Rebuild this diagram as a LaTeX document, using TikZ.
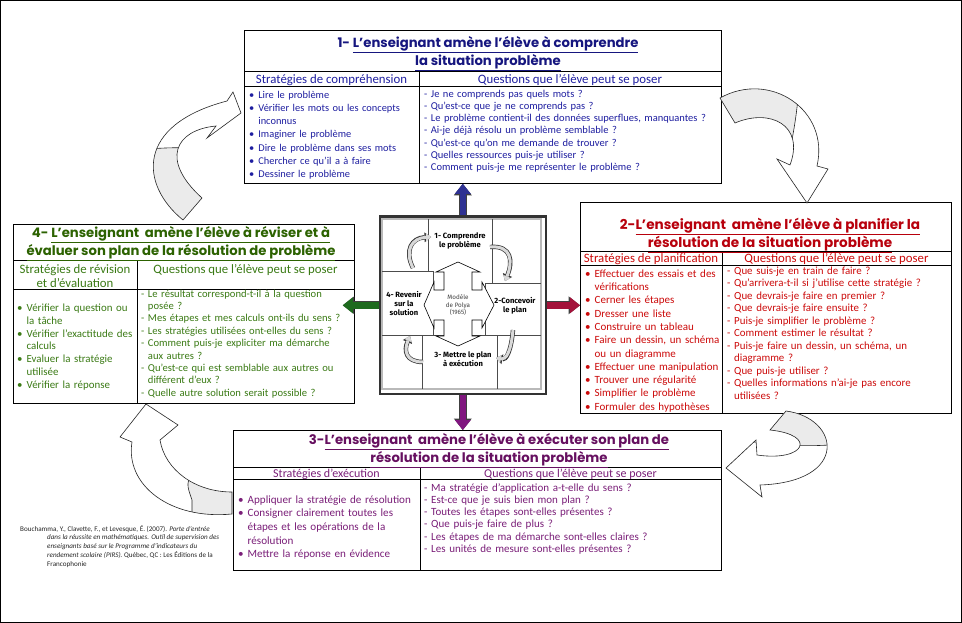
\documentclass[tikz,border=0pt]{standalone}
\usepackage{fontspec}
\setmainfont{Carlito}
\newfontfamily\headfont{Poppins}
\newfontfamily\polyfont{Fira Sans}
\usetikzlibrary{positioning,arrows.meta}
\definecolor{bluetxt}{HTML}{1E1EA0}
\definecolor{bluettl}{HTML}{16167F}
\definecolor{redtxt}{HTML}{CC0A0A}
\definecolor{redttl}{HTML}{B8000C}
\definecolor{greentxt}{HTML}{3A7A14}
\definecolor{greenttl}{HTML}{2C6200}
\definecolor{purptxt}{HTML}{7A1E78}
\definecolor{purpttl}{HTML}{661060}
\definecolor{arrblue}{HTML}{2E3192}
\definecolor{arrgreen}{HTML}{1E6A1E}
\definecolor{arrred}{HTML}{A3123A}
\definecolor{arrpurp}{HTML}{80167F}

\newcommand\bul{\textbullet\hspace{4pt}}
\newcommand\bulind{\hphantom{\textbullet}\hspace{4pt}}
\newcommand\dashind{\hphantom{-\ }}

% outlines of the four big curved arrows (pixel grid, y downwards)
\newcommand\arrTL{(183,220) .. controls (140,185) and (135,125) .. (227,101) -- (233,92) -- (241,113) -- (207,138) -- (216,126) .. controls (175,130) and (160,160) .. (202,198) -- cycle}
\newcommand\arrTR{(720,98) .. controls (770,70) and (830,110) .. (817,166) -- (828,169) -- (807,203) -- (777,159) -- (790,165) .. controls (805,125) and (770,108) .. (735,123) -- cycle}
\newcommand\arrBR{(786,411) .. controls (840,418) and (850,482) .. (760,485) -- (762,497) -- (726,468) -- (756,440) -- (757,455) .. controls (805,462) and (818,435) .. (770,430) -- cycle}
\newcommand\arrBL{(232,514) .. controls (170,520) and (125,485) .. (132,442) -- (120,437) -- (146,404) -- (178,425) -- (160,440) .. controls (165,470) and (195,492) .. (232,492) -- cycle}

\begin{document}
\begin{tikzpicture}[
  x=1pt, y=-1pt,
  panel/.style   = {draw=black, line width=0.8pt, anchor=north west, inner sep=0pt},
  sep/.style     = {draw=black, line width=0.7pt},
  ttl/.style     = {anchor=north, align=center, inner sep=0pt,
                    font=\headfont\bfseries\fontsize{13.2}{18}\selectfont},
  hdr/.style     = {anchor=base, inner sep=0pt, font=\fontsize{12.8}{13}\selectfont},
  lst/.style     = {anchor=north west, align=left, inner sep=0pt, text width=#1},
  blkarr/.style  = {draw=#1, line width=6.5pt, -{Triangle[length=10pt,width=16pt,line width=0pt]},
                    preaction={draw=black!75, line width=7.8pt,
                               -{Triangle[length=11.5pt,width=18pt,line width=0pt]}}},
  curl/.style    = {draw=black!85, line width=0.6pt},
  curlback/.style= {fill=black!8, draw=black!85, line width=0.6pt},
  minicurl/.style= {draw=gray!30, line width=3pt, -{Triangle[length=5pt,width=8pt,line width=0pt]},
                    preaction={draw=black!80, line width=4.4pt,
                               -{Triangle[length=6.5pt,width=10pt,line width=0pt]}}},
  polyatxt/.style= {align=center, inner sep=0pt, font=\polyfont\bfseries\fontsize{7.6}{9}\selectfont},
]
\fill[white] (0,0) rectangle (962,623);
\useasboundingbox (0,0) rectangle (962,623);
\draw[line width=1pt] (0.5,0.5) rectangle (961.5,622.5);

% ---------- 1 : comprendre ----------
\node[panel, minimum width=477pt, minimum height=153pt] (b1) at (244,30) {};
\draw[sep] (244,71) -- (721,71);
\draw[sep] (244,86) -- (721,86);
\draw[sep] (419,71) -- (419,183);
\node[ttl, text=bluettl] (b1t) at (488,34.4)
  {\strut 1- \underline{L’enseignant amène l’élève à comprendre}\\\underline{la situation problème}};
\node[hdr, text=bluetxt] (b1h1) at (331.5,83.5) {Stratégies de compréhension};
\node[hdr, text=bluetxt] (b1h2) at (570,83.5) {Questions que l’élève peut se poser};
\node[lst=170pt, text=bluetxt, font=\fontsize{10.4}{13.2}\selectfont] (b1s) at (249,88.8)
  {\strut\bul Lire le problème\\
   \bul Vérifier les mots ou les concepts\\
   \bulind inconnus\\
   \bul Imaginer le problème\\
   \bul Dire le problème dans ses mots\\
   \bul Chercher ce qu'il a à faire\\
   \bul Dessiner le problème};
\node[lst=295pt, text=bluetxt, font=\fontsize{10.5}{12.2}\selectfont] (b1q) at (424,88.5)
  {\strut- Je ne comprends pas quels mots ?\\
   - Qu'est-ce que je ne comprends pas ?\\
   - Le problème contient-il des données superflues, manquantes ?\\
   - Ai-je déjà résolu un problème semblable ?\\
   - Qu'est-ce qu'on me demande de trouver ?\\
   - Quelles ressources puis-je utiliser ?\\
   - Comment puis-je me représenter le problème ?};

% ---------- 2 : planifier ----------
\node[panel, minimum width=371pt, minimum height=211pt] (b2) at (580,202) {};
\draw[sep] (580,251) -- (951,251);
\draw[sep] (580,265) -- (951,265);
\draw[sep] (722,251) -- (722,413);
\node[ttl, text=redttl, font=\headfont\bfseries\fontsize{13.6}{16}\selectfont] (b2t) at (770,217.8)
  {\strut 2-\underline{L’enseignant\ \ amène l’élève à planifier la}\\\underline{résolution de la situation problème}};
\node[hdr, text=redtxt] (b2h1) at (651,262.5) {Stratégies de planification};
\node[hdr, text=redtxt] (b2h2) at (836.5,262.5) {Questions que l’élève peut se poser};
\node[lst=140pt, text=redtxt, font=\fontsize{11}{13.3}\selectfont] (b2s) at (585,267.7)
  {\strut\bul Effectuer des essais et des\\
   \bulind vérifications\\
   \bul Cerner les étapes\\
   \bul Dresser une liste\\
   \bul Construire un tableau\\
   \bul Faire un dessin, un schéma\\
   \bulind ou un diagramme\\
   \bul Effectuer une manipulation\\
   \bul Trouver une régularité\\
   \bul Simplifier le problème\\
   \bul Formuler des hypothèses};
\node[lst=224pt, text=redtxt, font=\fontsize{10.9}{12.5}\selectfont] (b2q) at (727,265.3)
  {\strut- Que suis-je en train de faire ?\\
   - Qu'arrivera-t-il si j'utilise cette stratégie ?\\
   - Que devrais-je faire en premier ?\\
   - Que devrais-je faire ensuite ?\\
   - Puis-je simplifier le problème ?\\
   - Comment estimer le résultat ?\\
   - Puis-je faire un dessin, un schéma, un\\
   \dashind diagramme ?\\
   - Que puis-je utiliser ?\\
   - Quelles informations n'ai-je pas encore\\
   \dashind utilisées ?};

% ---------- 3 : executer ----------
\node[panel, minimum width=488pt, minimum height=140pt] (b3) at (233,430) {};
\draw[sep] (233,467) -- (721,467);
\draw[sep] (233,479) -- (721,479);
\draw[sep] (420,467) -- (420,570);
\node[ttl, text=purpttl] (b3t) at (489,431.4)
  {\strut 3-\underline{L’enseignant\ \ amène l’élève à exécuter son plan de}\\\underline{résolution de la situation problème}};
\node[hdr, text=purptxt, font=\fontsize{12}{13}\selectfont] (b3h1) at (326.5,477) {Stratégies d’exécution};
\node[hdr, text=purptxt, font=\fontsize{12}{13}\selectfont] (b3h2) at (570.5,477) {Questions que l’élève peut se poser};
\node[lst=185pt, text=purptxt, font=\fontsize{11.1}{13.7}\selectfont] (b3s) at (238,493.4)
  {\strut\bul Appliquer la stratégie de résolution\\
   \bul Consigner clairement toutes les\\
   \bulind étapes et les opérations de la\\
   \bulind résolution\\
   \bul Mettre la réponse en évidence};
\node[lst=295pt, text=purptxt, font=\fontsize{11}{12.2}\selectfont] (b3q) at (424,482.5)
  {\strut- Ma stratégie d'application a-t-elle du sens ?\\
   - Est-ce que je suis bien mon plan ?\\
   - Toutes les étapes sont-elles présentes ?\\
   - Que puis-je faire de plus ?\\
   - Les étapes de ma démarche sont-elles claires ?\\
   - Les unités de mesure sont-elles présentes ?};

% ---------- 4 : reviser ----------
\node[panel, minimum width=341pt, minimum height=179pt] (b4) at (13,224) {};
\draw[sep] (13,260) -- (354,260);
\draw[sep] (13,289) -- (354,289);
\draw[sep] (137,260) -- (137,403);
\node[ttl, text=greenttl] (b4t) at (181,224.4)
  {\strut 4- \underline{L’enseignant\ \ amène l’élève à réviser et à}\\\underline{évaluer son plan de la résolution de problème}};
\node[hdr, anchor=north, align=center, font=\fontsize{12.8}{12}\selectfont, text=greentxt] (b4h1) at (75,264.6)
  {\strut Stratégies de révision\\et d’évaluation};
\node[hdr, text=greentxt] (b4h2) at (245.5,273) {Questions que l’élève peut se poser};
\node[lst=125pt, text=greentxt, font=\fontsize{10.9}{12.9}\selectfont] (b4s) at (17,302)
  {\strut\bul Vérifier la question ou\\
   \bulind la tâche\\
   \bul Vérifier l'exactitude des\\
   \bulind calculs\\
   \bul Evaluer la stratégie\\
   \bulind utilisée\\
   \bul Vérifier la réponse};
\node[lst=215pt, text=greentxt, font=\fontsize{10.6}{12.4}\selectfont] (b4q) at (141,288.3)
  {\strut- Le résultat correspond-t-il à la question\\
   \dashind posée ?\\
   - Mes étapes et mes calculs ont-ils du sens ?\\
   - Les stratégies utilisées ont-elles du sens ?\\
   - Comment puis-je expliciter ma démarche\\
   \dashind aux autres ?\\
   - Qu'est-ce qui est semblable aux autres ou\\
   \dashind différent d'eux ?\\
   - Quelle autre solution serait possible ?};

% ---------- Polya picture ----------
\node[draw=black!80, line width=2.6pt, minimum width=166pt, minimum height=177pt,
      anchor=north west, inner sep=0pt, fill=white] (polya) at (378.5,215.5) {};
\draw[gray!55, line width=1.1pt] (382,219) rectangle (541,389);
\begin{scope}[draw=black!70, line width=0.5pt]
  \draw (428,219) -- (428,271);
  \draw (492,219) -- (492,283);
  \draw (382,271) -- (433,271) -- (433,335);
  \draw (382,335) -- (422,335);
  \draw (485,283) -- (541,283);
  \draw (485,283) -- (485,335) -- (541,335);
  \draw (422,335) -- (497,335);
  \draw (422,335) -- (422,389);
  \draw (497,335) -- (497,389);
\end{scope}
\draw[line width=0.6pt, fill=white]
  (444,290) -- (444,272) -- (436,272) -- (458,262) -- (480,272) -- (472,272) -- (472,290)
  -- (482,290) -- (482,282) -- (494,305) -- (482,328) -- (482,320) -- (472,320)
  -- (472,336) -- (480,336) -- (458,346) -- (436,336) -- (444,336) -- (444,320)
  -- (434,320) -- (434,328) -- (424,305) -- (434,282) -- (434,290) -- cycle;
\node[polyatxt] (pt1) at (460,241) {1- Comprendre\\le problème};
\node[polyatxt] (pt2) at (515,306) {2-Concevoir\\le plan};
\node[polyatxt] (pt3) at (463,359) {3- Mettre le plan\\à exécution};
\node[polyatxt] (pt4) at (404,303) {4- Revenir\\sur la\\solution};
\node[align=center, inner sep=0pt, font=\polyfont\fontsize{6.3}{7.6}\selectfont, text=black!75] (pmid) at (458,305)
  {Modèle\\de Polya\\(1965)};
\draw[minicurl] (413,268) .. controls (404,250) and (412,238) .. (431,237);
\draw[minicurl] (490,247) .. controls (512,245) and (513,262) .. (505,281);
\draw[minicurl] (513,330) .. controls (511,352) and (506,360) .. (496,358);
\draw[minicurl] (423,362) .. controls (405,362) and (404,350) .. (410,336);

% ---------- arrows from the picture ----------
\draw[blkarr=arrblue] (polya.north) -- (polya.north |- b1.south);
\draw[blkarr=arrred] (polya.east) -- (polya.east -| b2.west);
\draw[blkarr=arrpurp] (polya.south) -- (polya.south |- b3.north);
\draw[blkarr=arrgreen] (polya.west) -- ([xshift=-12pt]polya.west -| b4.east);

% ---------- curved arrows between the boxes ----------
\fill[white] \arrTL;
\begin{scope}
  \clip \arrTL;
  \filldraw[curlback] (100,160) .. controls (140,146) and (170,146) .. (250,150) -- (250,240) -- (100,240) -- cycle;
\end{scope}
\draw[curl] \arrTL;

\fill[white] \arrTR;
\begin{scope}
  \clip \arrTR;
  \filldraw[curlback] (700,50) -- (801,50) .. controls (799,100) and (796,120) .. (790,150) -- (700,150) -- cycle;
\end{scope}
\draw[curl] \arrTR;

\fill[white] \arrBR;
\begin{scope}
  \clip \arrBR;
  \filldraw[curlback] (740,400) -- (880,400) -- (880,440) .. controls (830,446) and (800,449) .. (740,440) -- cycle;
\end{scope}
\draw[curl] \arrBR;

\fill[white] \arrBL;
\begin{scope}
  \clip \arrBL;
  \filldraw[curlback] (192,540) -- (192,500) .. controls (185,480) and (180,470) .. (240,470) -- (240,540) -- cycle;
\end{scope}
\draw[curl] \arrBL;

% ---------- reference ----------
\node[anchor=north west, align=left, inner sep=0pt, text=black!85,
      font=\fontsize{7.1}{8.7}\selectfont] (cite) at (20,525)
  {\strut Bouchamma, Y., Clavette, F., et Levesque, É. (2007). \textit{Porte d’entrée}\\
   \hspace*{27pt}\textit{dans la réussite en mathématiques. Outil de supervision des}\\
   \hspace*{27pt}\textit{enseignants basé sur le Programme d’indicateurs du}\\
   \hspace*{27pt}\textit{rendement scolaire (PIRS).} Québec, QC : Les Éditions de la\\
   \hspace*{27pt}Francophonie};

\end{tikzpicture}
\end{document}
